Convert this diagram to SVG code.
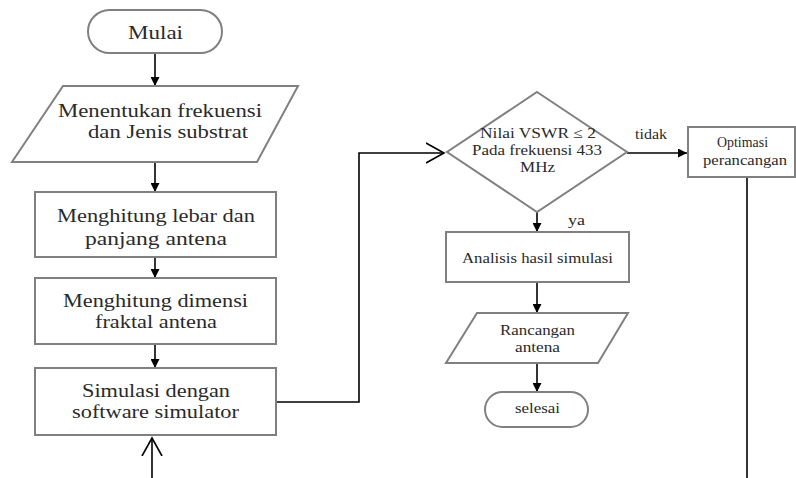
<svg xmlns="http://www.w3.org/2000/svg" width="796" height="478" viewBox="0 0 796 478">
<defs>
<style>
.n{fill:#fff;stroke:#808080;stroke-width:2}
text{font-family:'Liberation Serif','Times New Roman',serif;fill:#2a2a2a;font-size:18px}
text.s{font-size:14.5px}
.c{fill:none;stroke:#000;stroke-width:1.6}
</style>
<marker id="arr" viewBox="0 0 10 10" refX="10" refY="5" markerWidth="9" markerHeight="9" markerUnits="userSpaceOnUse" orient="auto"><path d="M0,0 L10,5 L0,10 z" fill="#000"/></marker>
<marker id="open" viewBox="0 0 20 22" refX="18" refY="11" markerWidth="20" markerHeight="22" markerUnits="userSpaceOnUse" orient="auto"><path d="M0,1 L18,11 L0,21" fill="none" stroke="#000" stroke-width="1.6"/></marker>
</defs>
<rect width="796" height="478" fill="#fff"/>
<g id="connectors">
<path class="c" d="M155,53 V86" marker-end="url(#arr)"/>
<path class="c" d="M155,162 V192" marker-end="url(#arr)"/>
<path class="c" d="M155,257 V278" marker-end="url(#arr)"/>
<path class="c" d="M155,344 V368" marker-end="url(#arr)"/>
<path class="c" d="M152,478 V438" marker-end="url(#open)"/>
<path class="c" d="M276,402 H359 V153 H444" marker-end="url(#open)"/>
<path class="c" d="M627,153 H687" marker-end="url(#arr)"/>
<path class="c" d="M747,177 V478"/>
<path class="c" d="M537,212 V232" marker-end="url(#arr)"/>
<path class="c" d="M537,282 V313" marker-end="url(#arr)"/>
<path class="c" d="M537,363 V392" marker-end="url(#arr)"/>
</g>
<g font-family="Liberation Serif, serif">
<g id="mulai">
<rect class="n" x="88" y="10" width="134" height="43" rx="21.5"/>
<text x="128" y="39" textLength="55" lengthAdjust="spacingAndGlyphs">Mulai</text>
</g>
<g id="menentukan">
<polygon class="n" points="63,86 298,86 257,162 12,162"/>
<text x="58" y="117" textLength="204" lengthAdjust="spacingAndGlyphs">Menentukan frekuensi</text>
<text x="88" y="138" textLength="160" lengthAdjust="spacingAndGlyphs">dan Jenis substrat</text>
</g>
<g id="lebar">
<rect class="n" x="35" y="192" width="241" height="65"/>
<text x="57" y="222" textLength="198" lengthAdjust="spacingAndGlyphs">Menghitung lebar dan</text>
<text x="85" y="245" textLength="142" lengthAdjust="spacingAndGlyphs">panjang antena</text>
</g>
<g id="dimensi">
<rect class="n" x="35" y="278" width="241" height="66"/>
<text x="63" y="307" textLength="185" lengthAdjust="spacingAndGlyphs">Menghitung dimensi</text>
<text x="95" y="328" textLength="122" lengthAdjust="spacingAndGlyphs">fraktal antena</text>
</g>
<g id="simulasi">
<rect class="n" x="35" y="368" width="241" height="67"/>
<text x="82" y="397" textLength="148" lengthAdjust="spacingAndGlyphs">Simulasi dengan</text>
<text x="72" y="418" textLength="167" lengthAdjust="spacingAndGlyphs">software simulator</text>
</g>
<g id="vswr">
<polygon class="n" points="537,92 627,152 537,212 447,152"/>
<text class="s" x="480" y="138" textLength="116" lengthAdjust="spacingAndGlyphs">Nilai VSWR ≤ 2</text>
<text class="s" x="472" y="155" textLength="130" lengthAdjust="spacingAndGlyphs">Pada frekuensi 433</text>
<text class="s" x="520" y="172" textLength="35" lengthAdjust="spacingAndGlyphs">MHz</text>
</g>
<g id="labels">
<text class="s" x="635" y="139" textLength="32" lengthAdjust="spacingAndGlyphs">tidak</text>
<text class="s" x="568" y="225" textLength="17" lengthAdjust="spacingAndGlyphs">ya</text>
</g>
<g id="optimasi">
<rect class="n" x="688" y="127" width="107" height="50"/>
<text class="s" x="717" y="147" textLength="51" lengthAdjust="spacingAndGlyphs">Optimasi</text>
<text class="s" x="703" y="165" textLength="84" lengthAdjust="spacingAndGlyphs">perancangan</text>
</g>
<g id="analisis">
<rect class="n" x="446" y="232" width="183" height="50"/>
<text class="s" x="462" y="263" textLength="151" lengthAdjust="spacingAndGlyphs">Analisis hasil simulasi</text>
</g>
<g id="rancangan">
<polygon class="n" points="477,313 628,313 598,363 446,363"/>
<text class="s" x="500" y="335" textLength="75" lengthAdjust="spacingAndGlyphs">Rancangan</text>
<text class="s" x="515" y="352" textLength="45" lengthAdjust="spacingAndGlyphs">antena</text>
</g>
<g id="selesai">
<rect class="n" x="485" y="392" width="103" height="35" rx="17.5"/>
<text class="s" x="515" y="413" textLength="45" lengthAdjust="spacingAndGlyphs">selesai</text>
</g>
</g>
</svg>
